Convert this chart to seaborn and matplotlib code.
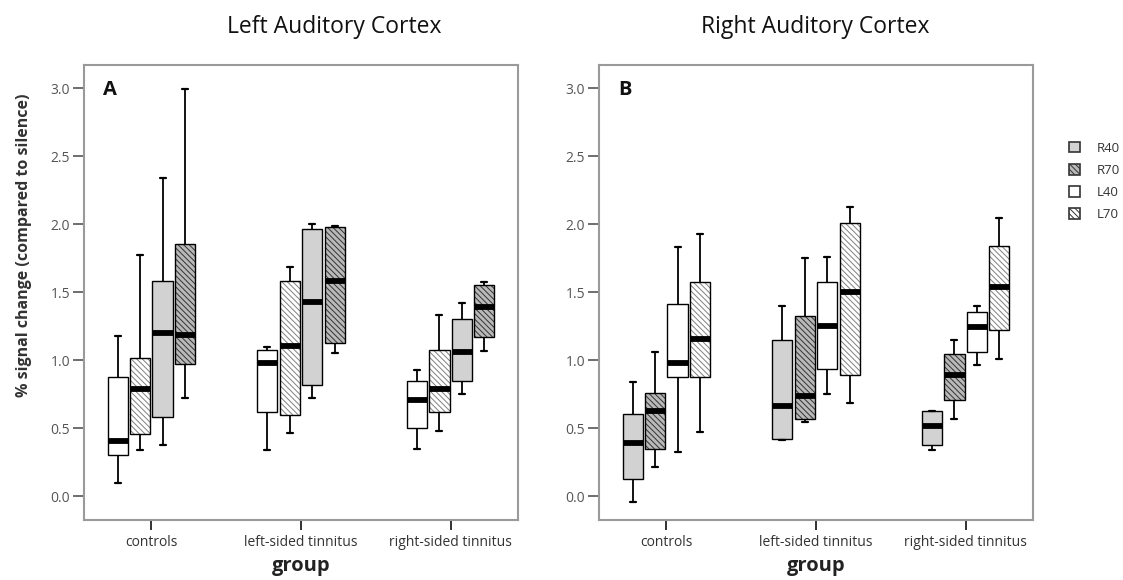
import numpy as np
import pandas as pd
import matplotlib
matplotlib.use("Agg")
import matplotlib.pyplot as plt
import matplotlib.patches as mpatches
import seaborn as sns

# ---------------- data (five-number summaries: min, Q1, median, Q3, max) ----------------
groups = ["controls", "left-sided tinnitus", "right-sided tinnitus"]
conditions = ["R40", "R70", "L40", "L70"]

# Left auditory cortex (panel A)
left_R40 = [[0.375, 0.583, 1.201, 1.583, 2.336],
            [0.718, 0.816, 1.424, 1.963, 2.002],
            [0.750, 0.843, 1.056, 1.299, 1.419]]
left_R70 = [[0.718, 0.971, 1.181, 1.855, 2.990],
            [1.049, 1.123, 1.583, 1.978, 1.983],
            [1.068, 1.167, 1.392, 1.551, 1.571]]
left_L40 = [[0.093, 0.299, 0.407, 0.873, 1.176],
            [0.338, 0.620, 0.980, 1.071, 1.093],
            [0.348, 0.500, 0.708, 0.843, 0.926]]
left_L70 = [[0.338, 0.458, 0.787, 1.012, 1.772],
            [0.466, 0.596, 1.103, 1.583, 1.686],
            [0.478, 0.615, 0.787, 1.074, 1.328]]

# Right auditory cortex (panel B)
right_R40 = [[-0.047, 0.127, 0.387, 0.603, 0.838],
             [0.409, 0.417, 0.664, 1.147, 1.400],
             [0.338, 0.372, 0.517, 0.627, 0.627]]
right_R70 = [[0.216, 0.348, 0.623, 0.755, 1.059],
             [0.547, 0.564, 0.738, 1.321, 1.750],
             [0.569, 0.708, 0.892, 1.042, 1.147]]
right_L40 = [[0.326, 0.877, 0.978, 1.412, 1.828],
             [0.750, 0.931, 1.250, 1.574, 1.760],
             [0.961, 1.061, 1.243, 1.353, 1.397]]
right_L70 = [[0.468, 0.873, 1.152, 1.576, 1.929],
             [0.681, 0.890, 1.498, 2.005, 2.123],
             [1.010, 1.218, 1.537, 1.841, 2.042]]

yticks = [0.0, 0.5, 1.0, 1.5, 2.0, 2.5, 3.0]


def long_frame(series):
    rows = []
    for cond, summ in series.items():
        for g, vals in zip(groups, summ):
            for v in vals:
                rows.append({"group": g, "condition": cond, "value": v})
    return pd.DataFrame(rows)


df_left = long_frame({"R40": left_R40, "R70": left_R70, "L40": left_L40, "L70": left_L70})
df_right = long_frame({"R40": right_R40, "R70": right_R70, "L40": right_L40, "L70": right_L70})

# ---------------- styling ----------------
sns.set_theme(style="white")
plt.rcParams["font.family"] = ["Open Sans", "DejaVu Sans"]
plt.rcParams["hatch.linewidth"] = 0.7

fills = {"R40": "#d2d2d2", "R70": "#b9b9b9", "L40": "#ffffff", "L70": "#ffffff"}
HATCH = "\\" * 6
hatches = {"R40": "", "R70": HATCH, "L40": "", "L70": HATCH}
hatch_cols = {"R70": (0.2, 0.2, 0.2, 1), "L70": (0.5, 0.5, 0.5, 1)}

W, H = 1123, 580
fig = plt.figure(figsize=(W / 100, H / 100), dpi=100)
fig.patch.set_facecolor("white")


def px_axes(left, right, top, bottom):
    return fig.add_axes([left / W, 1 - bottom / H, (right - left) / W, (bottom - top) / H])


axA = px_axes(84, 518, 65, 520)
axB = px_axes(599, 1033, 65, 520)

panels = [(axA, df_left, ["L40", "L70", "R40", "R70"], "A"),
          (axB, df_right, ["R40", "R70", "L40", "L70"], "B")]


def set_hc(patch, col):
    try:
        patch.set_hatchcolor(col)
    except AttributeError:
        patch._hatch_color = col


for ax, df, order, letter in panels:
    sns.boxplot(data=df, x="group", y="value", hue="condition", order=groups,
                hue_order=order, palette=fills, saturation=1, whis=(0, 100),
                width=0.6, gap=0.1, linecolor="black", linewidth=1.0,
                showfliers=False, legend=False, ax=ax,
                medianprops=dict(color="black", linewidth=4.2, solid_capstyle="butt"),
                whiskerprops=dict(color="black", linewidth=1.3),
                capprops=dict(color="black", linewidth=1.6))
    # hatch boxes according to their hue slot
    for cont in ax.containers:
        boxes = getattr(cont, "boxes", [])
        for b in boxes:
            ext = b.get_path().get_extents()
            xc = (ext.x0 + ext.x1) / 2
            off = xc - round(xc)
            idx = int(round((off + 0.225) / 0.15))
            idx = min(max(idx, 0), 3)
            cond = order[idx]
            if hatches[cond]:
                b.set_hatch(hatches[cond])
                set_hc(b, hatch_cols[cond])
        for cap in getattr(cont, "caps", []):
            xd = np.asarray(cap.get_xdata(), dtype=float)
            c = xd.mean()
            cap.set_xdata([c - 0.02, c + 0.02])
    ax.set_xlim(-0.45, 2.45)
    ax.set_ylim(-0.176, 3.17)
    ax.set_yticks(yticks)
    ax.set_yticklabels([f"{t:.1f}" for t in yticks])
    ax.set_xlabel("")
    ax.set_ylabel("")
    ax.tick_params(axis="y", length=8, width=1.2, color="#555555", labelsize=10,
                   labelcolor="#555555", pad=2, left=True)
    ax.tick_params(axis="x", length=7, width=1.3, color="#222222", labelsize=10,
                   labelcolor="#333333", pad=4, bottom=True)
    for s in ax.spines.values():
        s.set_color("#9a9a9a")
        s.set_linewidth(1.5)
    ax.set_facecolor("white")
    ax.text(0.06, 0.945, letter, transform=ax.transAxes, fontsize=14.5,
            fontweight="bold", ha="center", va="center", color="#111111")

# titles, axis labels
fig.text(334 / W, 1 - 27 / H, "Left Auditory Cortex", ha="center", va="center",
         fontsize=16.5, color="#111111")
fig.text(815 / W, 1 - 27 / H, "Right Auditory Cortex", ha="center", va="center",
         fontsize=16.5, color="#111111")
for xc in (301, 816):
    fig.text(xc / W, 1 - 566 / H, "group", ha="center", va="center",
             fontsize=14.5, fontweight="bold", color="#222222")
fig.text(24 / W, 1 - 245 / H, "% signal change (compared to silence)", rotation=90,
         ha="center", va="center", fontsize=11.5, fontweight="bold", color="#333333")

# legend
handles = []
for cond in conditions:
    p = mpatches.Patch(facecolor=fills[cond], edgecolor="#333333", linewidth=1.2,
                       hatch=hatches[cond] if hatches[cond] else None)
    handles.append(p)
leg = fig.legend(handles, conditions, loc="upper left",
                 bbox_to_anchor=(1062 / W, 1 - 135 / H), frameon=False,
                 fontsize=9.5, handlelength=0.85, handleheight=0.85,
                 handletextpad=1.3, labelspacing=0.7, borderpad=0)
for t in leg.get_texts():
    t.set_color("#333333")

fig.savefig("out.png", dpi=100, facecolor="white")
